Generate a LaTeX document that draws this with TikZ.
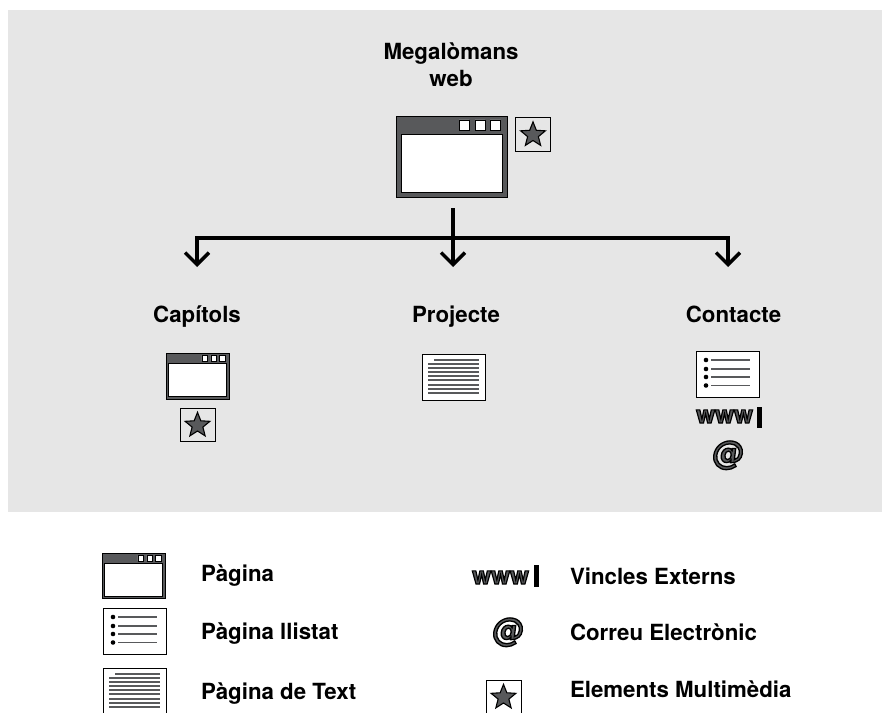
\documentclass[tikz,border=0pt]{standalone}
\usepackage{fontspec}
\setmainfont{TeX Gyre Heros}
\newfontfamily\atfont[FakeSlant=0.12,BoldFont={DejaVu Sans Bold},BoldFeatures={FakeSlant=0.12}]{DejaVu Sans}
\usetikzlibrary{arrows.meta,shapes.geometric}
\definecolor{panel}{HTML}{E6E6E6}
\definecolor{icon}{HTML}{58595B}
\newcommand\outlined[2]{\special{pdf:code 0 0 0 RG 2 Tr #1 w}#2\special{pdf:code 0 Tr 1 w}}
\tikzset{
  label text/.style={font=\bfseries\fontsize{22.35}{27}\selectfont,inner sep=0pt,outer sep=0pt},
  leg text/.style={label text,anchor=base west},
  wire/.style={line width=3.6bp,draw=black},
  arrow wire/.style={wire,-{Straight Barb[length=12bp,width=24bp,line width=3.4bp]}},
  frame/.style={draw=black,line width=0.7bp,inner sep=0pt,outer sep=0pt,anchor=north west},
  winframe/.style={frame,fill=icon},
  page/.style={frame,line width=0.9bp,fill=white},
  starbox/.style={frame,line width=0.9bp},
  starshape/.style={star,star points=5,star point ratio=2.3,minimum size=26bp,inner sep=0pt,fill=icon,draw=black,line width=1.1bp},
  webtext/.style={font=\bfseries\fontsize{24.4}{27}\selectfont,text=icon,inner sep=0pt,anchor=base west},
  attext/.style={font=\atfont\bfseries\fontsize{33}{33}\selectfont,text=icon,inner sep=0pt,anchor=base},
  inner page/.style={fill=white,draw=black,line width=0.9bp},
  line rule/.style={draw=icon,line width=1.5bp},
  bar/.style={fill=black,draw=none,inner sep=0pt,outer sep=0pt,anchor=north west},
}
% name, x, y, width, height, unit scale
\newcommand\windowicon[6]{%
  \begin{scope}[shift={(#2,#3)},x=#6bp,y=-#6bp]
    \node[winframe,minimum width=#4bp,minimum height=#5bp] (#1) at (0,0) {};
    \path[inner page] (5,18) rectangle (106,76);
    \path[fill=white,draw=black,line width=0.5bp] (63,4) rectangle +(10,10) (79,4) rectangle +(10,10) (94,4) rectangle +(10.5,10);
  \end{scope}}
\newcommand\listicon[3]{%
  \begin{scope}[shift={(#2,#3)}]
    \node[page,minimum width=63bp,minimum height=46bp] (#1) at (0,0) {};
    \foreach \yy in {9,18,26,34.5}{
      \fill[black] (10,\yy) circle (2.3);
      \path[line rule] (15,\yy) -- (54,\yy);
    }
  \end{scope}}
\newcommand\texticon[3]{%
  \begin{scope}[shift={(#2,#3)}]
    \node[page,minimum width=63bp,minimum height=46bp] (#1) at (0,0) {};
    \path[line rule] (12,6) -- (57,6);
    \foreach \yy in {10,14,18,22,26,31,35,39}{
      \path[line rule] (6,\yy) -- (57,\yy);
    }
  \end{scope}}
\newcommand\staricon[3]{%
  \node[starbox,minimum width=35bp,minimum height=33.5bp] (#1) at (#2,#3) {};
  \node[starshape] (#1s) at ([yshift=-0.6bp]#1.center) {};}
\begin{document}
\begin{tikzpicture}[x=1bp,y=-1bp]
  \useasboundingbox (0,0) rectangle (882,713);
  \clip (0,0) rectangle (882,713);
  \fill[panel] (8,10) rectangle (882,512);

  % title and top icons
  \node[label text,anchor=base] (title) at (451,60) {Megalòmans};
  \node[label text,anchor=base] (titleb) at (451,87) {web};
  \windowicon{main}{396}{116}{111}{81}{1}
  \staricon{mainstar}{515.5}{117.5}

  % section labels
  \node[label text,anchor=base] (capitols) at (197,322) {Capítols};
  \node[label text,anchor=base] (projecte) at (456,322) {Projecte};
  \node[label text,anchor=base] (contacte) at (733.5,322) {Contacte};

  % connectors
  \coordinate (trunk) at (453,208);
  \coordinate (busL) at (197,238);
  \coordinate (busR) at (728,238);
  \coordinate (endL) at (197,267);
  \coordinate (endM) at (453,267);
  \coordinate (endR) at (728,267);
  \draw[wire,line cap=butt] ([xshift=-1.8bp]busL) -- ([xshift=1.8bp]busR);
  \draw[arrow wire] (trunk) -- (endM);
  \draw[arrow wire] (busL) -- (endL);
  \draw[arrow wire] (busR) -- (endR);

  % Capitols column
  \windowicon{capwin}{166}{353}{63}{46}{0.568}
  \staricon{capstar}{180}{408}

  % Projecte column
  \texticon{protext}{422}{354}

  % Contacte column
  \listicon{conlist}{696}{351}
  \node[webtext] (conwww) at (696,423) {\outlined{1.2}{www}};
  \node[bar,minimum width=5bp,minimum height=21bp] (conbar) at (757,407) {};
  \node[attext] (conat) at (727,464) {\outlined{1.3}{@}};

  % legend left
  \windowicon{legwin}{102}{553}{63}{45}{0.568}
  \listicon{leglist}{103}{608}
  \texticon{legtext}{103}{668}
  \node[leg text] (l1) at (201,581) {Pàgina};
  \node[leg text] (l2) at (201,639) {Pàgina llistat};
  \node[leg text] (l3) at (201,699) {Pàgina de Text};

  % legend right
  \node[webtext] (legwww) at (472,584) {\outlined{1.2}{www}};
  \node[bar,minimum width=5bp,minimum height=22bp] (legbar) at (534,565) {};
  \node[attext] (legat) at (507,641) {\outlined{1.3}{@}};
  \staricon{legstar}{486}{680}
  \node[leg text] (r1) at (570,584) {Vincles Externs};
  \node[leg text] (r2) at (570,640) {Correu Electrònic};
  \node[leg text] (r3) at (570,697) {Elements Multimèdia};
\end{tikzpicture}
\end{document}
